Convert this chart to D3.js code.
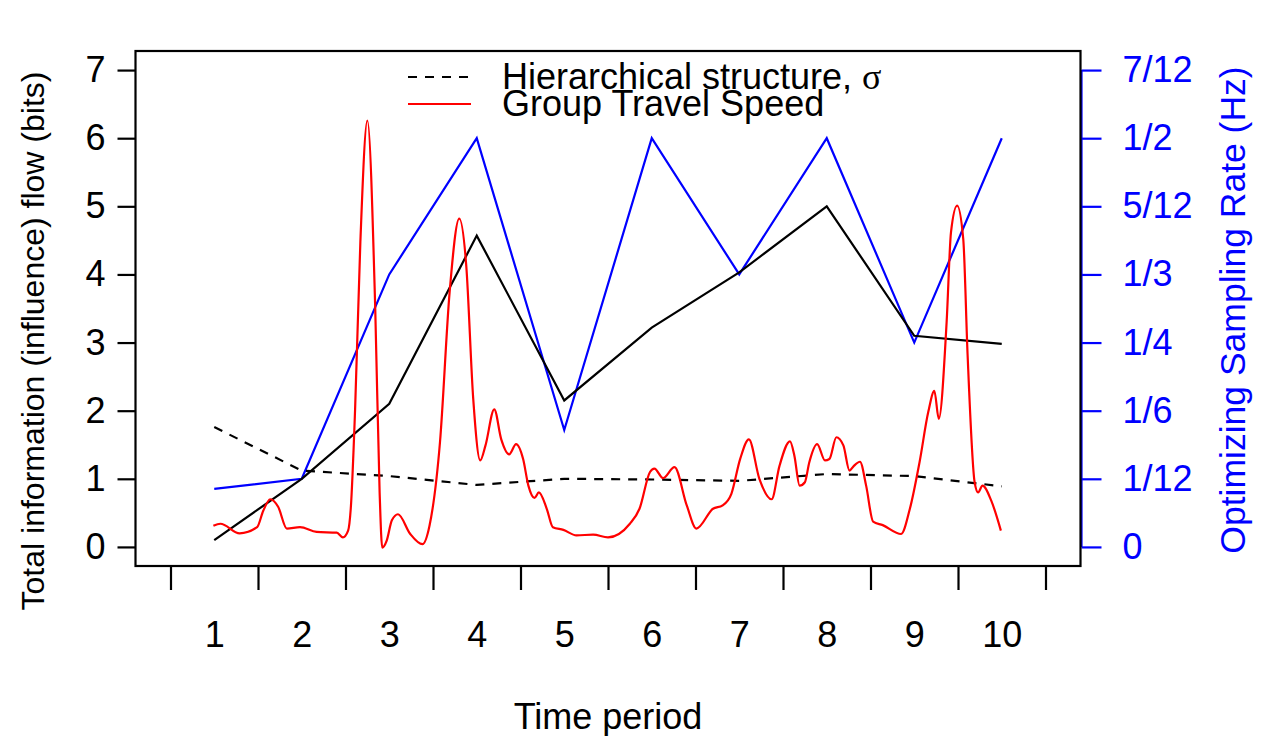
<!DOCTYPE html>
<html>
<head>
<meta charset="utf-8">
<script src="https://cdn.jsdelivr.net/npm/d3@7"></script>
<style>
  body { margin: 0; background: #fff; }
  text { font-family: "Liberation Sans", Arial, Helvetica, sans-serif; }
</style>
</head>
<body>
<div id="chart"></div>
<script>
// time periods and series
var periods = [1, 2, 3, 4, 5, 6, 7, 8, 9, 10];
var totalFlow = [0.10, 1.00, 2.10, 4.57, 2.15, 3.22, 4.03, 5.00, 3.10, 2.98];
var hierarchy = [1.76, 1.12, 1.04, 0.91, 1.00, 0.99, 0.97, 1.07, 1.04, 0.89];
var samplingRate = [0.071, 1/12, 1/3, 1/2, 0.143, 1/2, 1/3, 1/2, 1/4, 1/2];

// group travel speed, sampled along time
var speedT = [0.99, 1.07, 1.29, 1.49, 1.56, 1.64, 1.73, 1.83, 1.98, 2.17, 2.40, 2.47, 2.53, 2.56,
  2.61, 2.67, 2.75, 2.84, 2.89, 2.92, 2.97, 3.03, 3.10, 3.24, 3.38, 3.46, 3.58, 3.69, 3.80,
  3.88, 3.96, 4.04, 4.10, 4.20, 4.28, 4.37, 4.45, 4.53, 4.59, 4.66, 4.71, 4.80, 4.87, 4.99,
  5.14, 5.33, 5.50, 5.75, 5.86, 5.98, 6.03, 6.13, 6.26, 6.40, 6.51, 6.70, 6.81, 6.91, 7.01,
  7.11, 7.23, 7.37, 7.46, 7.58, 7.63, 7.69, 7.75, 7.80, 7.89, 7.98, 8.03, 8.11, 8.19, 8.26,
  8.31, 8.38, 8.45, 8.53, 8.64, 8.85, 8.95, 9.06, 9.16, 9.23, 9.28, 9.37, 9.42, 9.49, 9.56,
  9.61, 9.69, 9.73, 9.78, 9.88, 9.99];
var speedV = [0.31, 0.34, 0.20, 0.29, 0.53, 0.70, 0.59, 0.27, 0.29, 0.22, 0.21, 0.14, 0.24, 0.56,
  2.03, 4.48, 6.26, 3.49, 0.80, -0.01, 0.09, 0.39, 0.48, 0.19, 0.04, 0.31, 1.54, 3.74, 4.82,
  4.13, 2.17, 1.27, 1.49, 2.02, 1.58, 1.36, 1.51, 1.29, 0.90, 0.72, 0.80, 0.56, 0.29, 0.25,
  0.17, 0.18, 0.14, 0.34, 0.56, 1.10, 1.15, 1.01, 1.17, 0.61, 0.27, 0.56, 0.61, 0.78, 1.29,
  1.58, 1.00, 0.70, 1.19, 1.55, 1.34, 0.90, 0.95, 1.24, 1.51, 1.27, 1.29, 1.61, 1.49, 1.12,
  1.19, 1.25, 0.90, 0.37, 0.32, 0.19, 0.56, 1.24, 1.98, 2.29, 1.88, 3.30, 4.62, 5.01, 4.52,
  2.81, 0.95, 0.80, 0.90, 0.68, 0.24];

var leftTicks = [0, 1, 2, 3, 4, 5, 6, 7];
var rightTicks = [0, 1/12, 1/6, 1/4, 1/3, 5/12, 1/2, 7/12];
var rightLabels = ["0", "1/12", "1/6", "1/4", "1/3", "5/12", "1/2", "7/12"];
var xTicks = [0.5, 1.5, 2.5, 3.5, 4.5, 5.5, 6.5, 7.5, 8.5, 9.5, 10.5];

var W = 1262, H = 736;
var fs = 36;   // horizontal texts
var lw = 2.2;

var svg = d3.select("#chart").append("svg")
    .attr("width", W)
    .attr("height", H);

// scales
var x = d3.scaleLinear().domain([0.1, 10.9]).range([135.5, 1080.5]);
var y = d3.scaleLinear().domain([-0.28, 7.28]).range([566, 51]);
var yR = d3.scaleLinear().domain([-0.28 / 12, 7.28 / 12]).range([566, 51]);

// left axis
var gL = svg.append("g")
    .attr("transform", "translate(135.5,0)")
    .call(d3.axisLeft(y).tickValues(leftTicks).tickSize(18).tickPadding(12).tickFormat(d3.format("d")));
gL.select(".domain").remove();

// bottom axis: ticks between periods, labels on periods
var gB = svg.append("g")
    .attr("transform", "translate(0,566)")
    .call(d3.axisBottom(x).tickValues(xTicks).tickSize(24).tickFormat(""));
gB.select(".domain").remove();
var gB2 = svg.append("g")
    .attr("transform", "translate(0,566)")
    .call(d3.axisBottom(x).tickValues(periods).tickSize(0).tickPadding(55).tickFormat(d3.format("d")));
gB2.select(".domain").remove();

// right axis in blue
var gR = svg.append("g")
    .attr("transform", "translate(1081.5,0)")
    .call(d3.axisRight(yR).tickValues(rightTicks).tickSize(20).tickPadding(21)
      .tickFormat(function(d, i) { return rightLabels[i]; }));
gR.select(".domain")
    .attr("d", "M0," + yR(0) + "V" + yR(7 / 12))
    .attr("stroke", "#0000ff").attr("stroke-width", lw);
gR.selectAll(".tick line").attr("stroke", "#0000ff");
gR.selectAll(".tick text").attr("fill", "#0000ff");

svg.selectAll(".tick line").attr("stroke-width", lw);
svg.selectAll(".tick text").style("font-size", fs + "px").style("font-family", "Liberation Sans, Arial, sans-serif");

// plot box
svg.append("rect")
    .attr("x", 135.5).attr("y", 51)
    .attr("width", 945).attr("height", 515)
    .attr("fill", "none").attr("stroke", "#000").attr("stroke-width", lw);

var line = d3.line()
    .x(function(d) { return x(d[0]); })
    .y(function(d) { return y(d[1]); });

// blue sampling rate on right scale
var lineR = d3.line()
    .x(function(d) { return x(d[0]); })
    .y(function(d) { return yR(d[1]); });
svg.append("path")
    .datum(d3.zip(periods, samplingRate))
    .attr("d", lineR)
    .attr("fill", "none").attr("stroke", "#0000ff").attr("stroke-width", lw);

// total information flow
svg.append("path")
    .datum(d3.zip(periods, totalFlow))
    .attr("d", line)
    .attr("fill", "none").attr("stroke", "#000").attr("stroke-width", lw);

// hierarchical structure, dashed
svg.append("path")
    .datum(d3.zip(periods, hierarchy))
    .attr("d", line)
    .attr("fill", "none").attr("stroke", "#000").attr("stroke-width", lw)
    .attr("stroke-dasharray", "9,8");

// group travel speed, smooth red curve
svg.append("path")
    .datum(d3.zip(speedT, speedV))
    .attr("d", line.curve(d3.curveMonotoneX))
    .attr("fill", "none").attr("stroke", "#ff0000").attr("stroke-width", lw);

// axis titles
svg.append("text")
    .attr("x", 608).attr("y", 729)
    .attr("text-anchor", "middle")
    .style("font-size", fs + "px")
    .text("Time period");

svg.append("text")
    .attr("transform", "translate(44,341) rotate(-90)")
    .attr("text-anchor", "middle")
    .style("font-size", "32px")
    .text("Total information (influence) flow (bits)");

svg.append("text")
    .attr("transform", "translate(1245,310) rotate(-90)")
    .attr("text-anchor", "middle")
    .attr("fill", "#0000ff")
    .style("font-size", "35.5px")
    .text("Optimizing Sampling Rate (Hz)");

// legend, no box
var legend = svg.append("g");
legend.append("line")
    .attr("x1", 408).attr("x2", 471).attr("y1", 77).attr("y2", 77)
    .attr("stroke", "#000").attr("stroke-width", lw).attr("stroke-dasharray", "9,8");
legend.append("line")
    .attr("x1", 408).attr("x2", 471).attr("y1", 104).attr("y2", 104)
    .attr("stroke", "#ff0000").attr("stroke-width", lw);
var t1 = legend.append("text")
    .attr("x", 502).attr("y", 89)
    .style("font-size", fs + "px");
t1.append("tspan").text("Hierarchical structure, ");
t1.append("tspan")
    .style("font-family", "Liberation Serif, Times New Roman, serif")
    .text("\u03c3");
legend.append("text")
    .attr("x", 502).attr("y", 116)
    .style("font-size", fs + "px")
    .text("Group Travel Speed");
</script>
</body>
</html>
